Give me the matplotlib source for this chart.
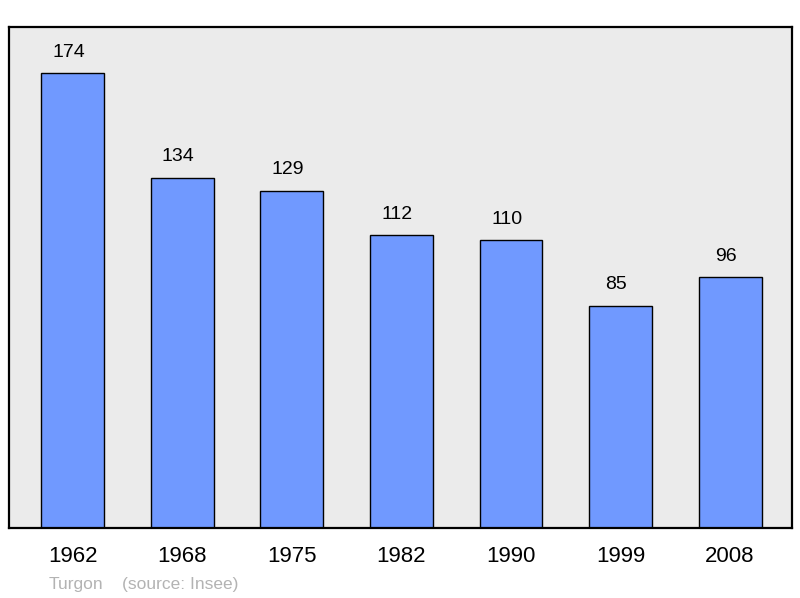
import matplotlib.pyplot as plt

plt.rcParams['font.family'] = ['Liberation Sans', 'DejaVu Sans']

years = ['1962', '1968', '1975', '1982', '1990', '1999', '2008']
population = [174, 134, 129, 112, 110, 85, 96]
town = 'Turgon'
source = '(source: Insee)'


def draw_chart():
    fig = plt.figure(figsize=(8, 5.98), dpi=100)
    ax = fig.add_axes([0.01125, 0.1171, 0.97875, 0.8378])
    ax.set_facecolor('#ebebeb')

    x = range(len(years))
    bars = ax.bar(x, population, width=0.575, color='#7099ff',
                  edgecolor='black', linewidth=1.0, zorder=2)

    # value labels above each bar (slightly left of centre, as in the original)
    for bar, val in zip(bars, population):
        ax.annotate(str(val), (bar.get_x() + bar.get_width() / 2, bar.get_height()),
                    xytext=(-3, 15), textcoords='offset points',
                    ha='center', va='center', fontsize=14)

    ax.set_xlim(-0.584, 6.566)
    ax.set_ylim(0, 191.6)
    ax.set_xticks(list(x))
    ax.set_xticklabels(years, fontsize=16)
    ax.tick_params(axis='x', length=0, pad=13)
    ax.set_yticks([])
    for s in ax.spines.values():
        s.set_linewidth(1.6)

    fig.text(49 / 800, 1 - 584 / 598, town, color='#b3b3b3', fontsize=12.5, va='center')
    fig.text(122 / 800, 1 - 584 / 598, source, color='#b3b3b3', fontsize=12.5, va='center')

    fig.savefig('out.png', dpi=100)
    return fig


figure_chart = draw_chart()
